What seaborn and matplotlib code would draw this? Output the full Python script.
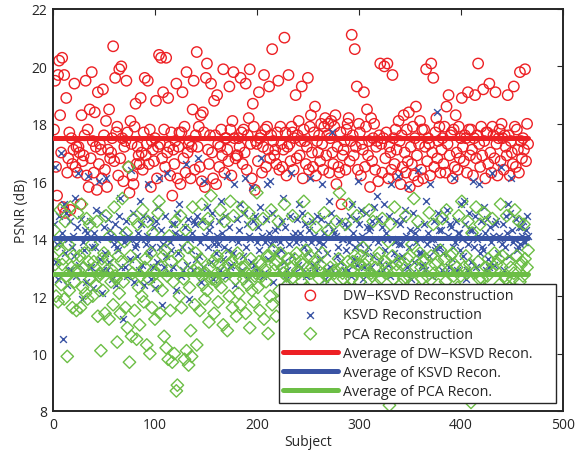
import numpy as np
import pandas as pd
import matplotlib
matplotlib.use("Agg")
import matplotlib.pyplot as plt
import seaborn as sns

# PSNR (dB) per subject for the three reconstruction methods
dw_ksvd = [
    17.8, 19.5, 16.5, 15.5, 19.7, 20.2, 18.3, 17.0, 20.3, 15.1, 19.7, 14.9, 18.9, 16.3, 16.8, 17.7, 15.0, 17.5, 16.6, 17.1,
    19.4, 16.5, 17.2, 16.3, 17.2, 17.0, 15.2, 18.3, 16.7, 16.9, 17.6, 19.5, 16.2, 17.8, 15.8, 18.5, 16.8, 19.8, 17.4, 16.3,
    18.4, 17.2, 15.7, 19.1, 16.6, 17.3, 17.1, 16.1, 19.2, 17.6, 16.4, 18.1, 15.8, 17.1, 18.5, 16.8, 17.0, 17.5, 20.7, 16.7,
    19.6, 17.7, 17.9, 16.2, 19.9, 16.8, 20.0, 17.5, 16.0, 17.2, 17.4, 19.5, 17.7, 16.5, 15.6, 18.1, 17.3, 16.2, 15.9, 17.9,
    18.7, 16.6, 17.2, 16.9, 16.6, 18.9, 17.0, 16.4, 17.7, 19.6, 16.9, 17.3, 19.5, 16.6, 17.8, 15.8, 17.4, 17.1, 16.7, 17.5,
    18.8, 16.1, 17.2, 20.4, 17.3, 20.3, 16.8, 19.1, 17.8, 16.5, 20.3, 17.0, 18.9, 17.2, 16.2, 17.7, 15.5, 17.1, 16.6, 17.4,
    19.4, 16.1, 17.2, 17.7, 15.9, 17.7, 19.1, 16.8, 17.9, 16.3, 19.8, 17.0, 17.3, 17.4, 16.1, 17.2, 18.5, 19.5, 16.4, 17.6,
    20.5, 17.2, 17.9, 16.5, 18.3, 16.0, 18.4, 17.7, 15.8, 19.6, 20.1, 17.1, 16.6, 17.6, 19.4, 17.0, 16.1, 18.8, 17.6, 15.9,
    19.0, 17.3, 16.5, 17.2, 17.8, 16.9, 19.9, 16.3, 17.5, 17.5, 17.1, 16.7, 19.3, 17.8, 16.2, 18.1, 19.8, 17.5, 16.8, 16.9,
    16.9, 17.5, 17.2, 19.6, 17.7, 16.6, 17.8, 17.0, 19.4, 16.4, 17.6, 18.2, 19.9, 17.3, 16.1, 18.7, 17.9, 15.7, 17.4, 17.3,
    16.7, 19.1, 17.5, 17.6, 16.3, 17.2, 19.7, 17.8, 16.5, 17.9, 17.1, 19.3, 16.8, 17.6, 20.6, 17.4, 16.9, 17.1, 16.6, 17.7,
    19.5, 16.4, 17.9, 17.3, 16.5, 17.1, 21.0, 17.7, 16.2, 17.2, 19.7, 17.3, 16.7, 17.9, 17.7, 16.4, 17.5, 19.0, 16.8, 17.6,
    18.1, 16.9, 17.4, 19.3, 16.1, 17.8, 17.4, 16.6, 17.2, 19.6, 16.4, 17.9, 18.3, 17.0, 16.5, 17.7, 18.6, 16.2, 17.4, 17.0,
    17.6, 16.7, 18.0, 17.3, 16.4, 17.9, 18.2, 16.9, 17.6, 18.0, 16.3, 17.5, 18.1, 17.0, 16.6, 17.9, 18.3, 15.9, 17.2, 16.5,
    16.3, 17.7, 15.2, 16.9, 17.1, 17.4, 16.4, 17.8, 18.0, 18.2, 16.7, 17.4, 21.1, 17.6, 16.9, 20.6, 17.2, 19.3, 16.4, 18.0,
    17.7, 16.2, 17.3, 17.1, 19.1, 16.5, 17.9, 18.5, 16.9, 17.4, 15.8, 18.2, 16.7, 17.5, 18.0, 16.4, 17.2, 17.4, 16.0, 17.6,
    20.1, 17.3, 16.3, 17.5, 20.0, 16.8, 17.7, 20.1, 16.1, 17.2, 17.0, 16.4, 19.7, 17.5, 16.6, 17.8, 17.1, 16.2, 18.1, 17.4,
    15.9, 17.6, 16.5, 18.3, 17.0, 16.3, 17.8, 16.7, 18.4, 15.8, 17.2, 16.6, 17.9, 16.2, 17.5, 18.6, 16.9, 16.0, 17.3, 18.1,
    16.4, 17.8, 16.1, 17.8, 17.2, 19.9, 16.7, 17.5, 17.3, 16.2, 20.1, 17.0, 19.6, 16.5, 17.7, 18.2, 16.8, 17.4, 17.9, 16.3,
    17.1, 17.5, 16.6, 17.9, 16.3, 18.6, 17.3, 19.0, 16.9, 17.6, 17.7, 16.1, 17.8, 16.5, 18.3, 17.0, 16.4, 17.9, 16.8, 17.5,
    18.9, 17.2, 16.7, 17.6, 17.5, 16.3, 19.1, 17.8, 16.9, 17.8, 17.1, 16.2, 17.5, 19.0, 16.8, 17.6, 20.1, 17.3, 16.5, 17.9,
    16.9, 19.2, 17.4, 16.1, 17.7, 17.7, 16.6, 19.4, 17.0, 16.3, 17.9, 17.6, 16.8, 19.1, 17.3, 16.2, 17.5, 17.8, 16.7, 18.0,
    17.5, 16.4, 17.6, 17.2, 16.9, 19.0, 17.6, 16.2, 17.4, 17.0, 16.6, 19.3, 17.9, 16.5, 17.8, 17.1, 16.3, 19.8, 17.4, 16.8,
    17.5, 17.1, 19.9, 16.7, 18.0, 17.3,
]

ksvd = [
    14.5, 16.5, 13.2, 13.8, 12.6, 14.8, 13.9, 17.0, 14.2, 10.5, 15.2, 13.5, 14.9, 12.4, 14.0, 12.9, 14.6, 12.9, 13.7, 14.1,
    13.4, 15.4, 12.7, 14.4, 16.3, 13.1, 14.7, 11.9, 13.9, 13.6, 14.3, 12.5, 14.2, 16.2, 13.0, 14.6, 13.0, 13.7, 12.3, 14.2,
    13.7, 15.0, 14.0, 12.8, 16.0, 13.3, 14.9, 12.1, 12.9, 14.4, 13.5, 16.1, 12.9, 14.7, 13.2, 14.3, 14.1, 12.6, 14.0, 13.8,
    14.5, 12.4, 13.7, 13.6, 14.8, 15.4, 13.0, 14.3, 11.2, 13.9, 13.0, 14.6, 12.7, 14.1, 14.0, 13.3, 16.4, 14.9, 12.5, 13.7,
    13.8, 13.4, 14.2, 12.9, 15.3, 14.5, 13.1, 14.8, 12.4, 14.0, 13.8, 14.1, 15.9, 13.5, 14.7, 12.6, 13.7, 13.0, 14.4, 12.3,
    14.6, 13.2, 15.1, 16.1, 13.7, 14.3, 11.7, 13.8, 13.0, 14.8, 13.4, 16.3, 14.0, 12.8, 13.9, 13.6, 14.5, 13.0, 14.5, 14.2,
    12.2, 14.9, 13.5, 15.2, 14.1, 12.7, 13.7, 12.9, 14.4, 16.6, 13.1, 14.7, 11.9, 14.0, 13.6, 14.2, 12.9, 14.6, 14.5, 13.3,
    14.8, 16.8, 13.4, 13.9, 12.5, 14.6, 13.0, 16.0, 14.1, 12.8, 15.1, 13.7, 14.3, 14.5, 13.2, 14.9, 12.6, 13.8, 14.0, 13.5,
    14.1, 13.8, 14.6, 12.9, 15.3, 14.2, 13.3, 13.7, 14.8, 12.7, 16.2, 13.6, 14.4, 13.0, 13.1, 14.0, 13.5, 15.9, 12.4, 14.7,
    13.9, 14.3, 15.2, 12.8, 12.9, 13.4, 14.9, 16.1, 13.7, 14.5, 12.6, 14.1, 14.0, 13.2, 15.8, 14.6, 13.1, 14.8, 12.9, 13.9,
    14.4, 13.6, 15.1, 16.8, 14.1, 12.7, 12.8, 13.9, 14.7, 15.9, 13.3, 14.2, 16.0, 13.8, 14.9, 12.5, 14.0, 14.3, 13.5, 14.4,
    14.0, 12.9, 13.9, 13.6, 14.6, 15.4, 13.2, 14.4, 12.6, 12.9, 13.8, 14.8, 16.3, 13.4, 14.1, 12.8, 14.2, 13.9, 14.7, 13.1,
    15.2, 14.2, 13.0, 14.9, 14.0, 13.7, 14.5, 12.7, 12.8, 13.5, 14.3, 16.1, 13.9, 14.6, 13.1, 14.1, 14.0, 12.9, 14.8, 13.6,
    13.9, 13.3, 14.7, 15.9, 13.8, 14.2, 12.6, 12.9, 13.5, 14.5, 15.3, 13.0, 14.9, 17.7, 14.3, 14.2, 12.8, 14.1, 13.4, 13.7,
    14.6, 13.2, 14.0, 14.0, 12.9, 14.5, 13.6, 14.4, 12.9, 13.9, 14.8, 12.7, 15.2, 14.2, 13.3, 13.7, 14.7, 13.1, 16.0, 14.5,
    13.8, 15.0, 14.1, 12.6, 13.0, 13.5, 14.9, 14.4, 13.7, 14.3, 14.4, 13.0, 14.6, 13.4, 15.1, 14.0, 12.8, 15.5, 13.9, 14.7,
    13.2, 12.8, 14.4, 12.9, 15.2, 13.6, 14.2, 14.0, 13.1, 14.8, 12.7, 15.9, 14.0, 13.5, 13.9, 14.6, 13.3, 16.2, 13.8, 14.5,
    13.8, 13.4, 14.7, 12.8, 15.0, 14.1, 13.0, 15.8, 13.7, 14.3, 12.6, 12.8, 14.9, 13.2, 14.2, 13.9, 14.4, 16.4, 13.5, 14.0,
    13.5, 13.1, 13.0, 14.5, 12.9, 15.3, 13.8, 14.2, 13.4, 15.9, 14.0, 12.7, 14.0, 14.6, 13.6, 13.7, 18.4, 14.9, 14.3, 13.7,
    14.3, 12.9, 13.5, 14.7, 12.8, 15.0, 14.1, 13.0, 14.5, 14.4, 13.3, 13.7, 16.1, 13.9, 14.6, 12.9, 14.2, 14.2, 13.6, 15.2,
    14.0, 13.4, 15.3, 14.5, 12.6, 12.9, 13.8, 14.9, 14.3, 13.2, 14.3, 16.0, 13.7, 14.8, 13.0, 14.0, 14.1, 15.9, 13.5, 14.6,
    13.7, 13.6, 15.1, 14.2, 12.9, 14.7, 13.3, 13.0, 14.4, 13.9, 16.3, 14.1, 13.1, 14.5, 14.6, 13.5, 14.1, 14.0, 16.5, 13.8,
    14.5, 12.9, 13.7, 14.8, 14.2, 15.2, 13.4, 14.9, 16.1, 14.3, 13.9, 14.0, 14.0, 14.7, 13.6, 13.7, 14.4, 13.8, 14.4, 14.1,
    14.6, 13.9, 13.9, 14.3, 14.8, 14.1,
]

pca = [
    14.3, 13.1, 12.0, 13.8, 11.8, 13.6, 15.0, 12.4, 13.1, 13.3, 11.9, 14.6, 12.7, 9.9, 13.8, 12.2, 15.1, 13.0, 11.6, 13.4,
    12.5, 12.9, 11.5, 14.9, 12.9, 13.4, 11.6, 15.2, 12.3, 13.0, 13.5, 12.1, 14.7, 11.9, 13.2, 14.5, 12.6, 13.8, 12.0, 13.2,
    13.0, 12.4, 14.6, 11.3, 12.7, 12.8, 10.1, 13.3, 12.2, 13.5, 11.4, 14.8, 12.9, 13.3, 11.2, 14.1, 12.5, 12.9, 11.7, 15.1,
    12.7, 12.6, 10.4, 13.4, 12.1, 11.4, 13.2, 15.4, 12.5, 13.9, 11.6, 14.2, 10.9, 16.5, 9.7, 13.4, 10.6, 12.8, 14.7, 11.5,
    13.1, 10.5, 14.5, 12.3, 11.0, 12.7, 12.0, 15.0, 11.8, 13.0, 13.3, 10.3, 14.6, 12.6, 10.0, 13.5, 11.6, 14.2, 12.9, 11.2,
    12.8, 12.4, 14.9, 15.3, 11.4, 13.0, 12.2, 13.4, 10.6, 13.6, 10.2, 12.7, 9.8, 14.1, 11.5, 13.2, 9.7, 12.5, 10.0, 14.6,
    8.7, 8.9, 13.4, 12.0, 14.8, 11.6, 13.1, 12.6, 9.8, 14.3, 10.1, 13.7, 9.6, 12.3, 10.8, 9.9, 15.1, 12.9, 11.7, 13.5,
    10.3, 13.0, 12.8, 11.5, 13.3, 15.2, 12.4, 14.5, 11.9, 12.8, 12.2, 14.7, 11.1, 13.0, 15.5, 12.6, 13.2, 11.4, 12.6, 12.5,
    13.4, 11.8, 13.1, 15.0, 12.3, 12.9, 11.0, 14.6, 12.7, 13.4, 10.8, 13.1, 12.0, 15.3, 13.2, 11.6, 14.8, 12.9, 12.6, 11.3,
    13.5, 12.1, 13.3, 11.7, 13.0, 15.1, 12.6, 13.0, 11.4, 12.8, 12.4, 14.9, 10.9, 13.3, 12.2, 14.5, 11.8, 12.7, 12.8, 15.6,
    12.3, 13.2, 11.5, 13.1, 12.7, 14.7, 11.2, 12.9, 12.5, 13.4, 10.7, 13.4, 12.0, 15.0, 11.7, 13.6, 12.9, 13.1, 11.3, 13.2,
    14.6, 12.2, 13.5, 11.9, 13.0, 12.8, 15.2, 11.6, 12.7, 12.4, 13.3, 11.0, 13.0, 12.6, 14.8, 11.4, 13.3, 12.1, 13.5, 12.9,
    12.8, 11.8, 13.2, 12.5, 13.1, 15.3, 11.5, 13.6, 12.3, 14.7, 11.2, 13.4, 12.8, 13.0, 10.9, 13.2, 12.0, 14.4, 11.7, 12.9,
    12.6, 13.1, 11.3, 13.5, 12.2, 14.9, 11.9, 12.7, 12.7, 14.3, 11.1, 13.0, 12.4, 11.5, 11.6, 12.8, 12.9, 14.6, 11.4, 13.3,
    15.6, 12.1, 13.0, 12.8, 12.6, 11.7, 14.5, 12.3, 13.2, 15.2, 11.5, 12.9, 12.6, 13.2, 11.0, 13.4, 12.0, 14.8, 11.8, 13.1,
    12.5, 13.4, 11.3, 13.7, 12.9, 13.1, 11.6, 13.3, 12.2, 15.0, 11.9, 12.8, 12.7, 14.6, 11.2, 13.0, 12.4, 13.3, 11.7, 13.5,
    12.6, 12.0, 14.7, 11.4, 13.2, 12.8, 13.0, 11.1, 13.9, 8.2, 14.5, 11.8, 13.4, 12.6, 15.1, 11.5, 13.1, 12.9, 13.2, 11.9,
    12.4, 13.1, 11.6, 12.6, 12.1, 14.8, 11.3, 13.3, 12.7, 13.4, 11.0, 13.8, 12.5, 15.4, 11.7, 13.0, 12.2, 14.6, 11.4, 13.5,
    13.0, 12.6, 13.2, 11.8, 13.3, 12.3, 12.7, 11.5, 14.9, 12.0, 13.4, 11.2, 14.5, 12.8, 13.1, 11.9, 13.2, 12.4, 11.5, 13.6,
    12.9, 14.7, 11.4, 13.3, 12.5, 15.0, 11.7, 12.9, 12.1, 13.4, 11.1, 13.5, 12.7, 13.1, 11.6, 13.0, 12.3, 14.8, 11.8, 12.7,
    15.3, 12.2, 13.0, 11.5, 13.4, 12.8, 14.6, 11.3, 13.1, 8.3, 14.2, 11.9, 12.8, 12.0, 15.1, 11.6, 13.2, 12.6, 14.5, 11.2,
    12.6, 12.3, 14.9, 11.7, 13.0, 12.7, 13.3, 11.4, 12.9, 12.1, 14.7, 11.8, 13.5, 12.9, 13.1, 11.0, 13.3, 12.4, 15.2, 11.6,
    13.4, 12.0, 12.7, 12.6, 14.8, 11.5, 13.2, 12.3, 13.0, 11.9, 12.6, 12.8, 15.0, 11.3, 13.4, 12.2, 14.6, 12.5, 13.1, 13.2,
    12.7, 14.5, 13.3, 12.1, 13.0, 13.6,
]

labels = ["DW\u2212KSVD Reconstruction", "KSVD Reconstruction", "PCA Reconstruction"]
avg_labels = ["Average of DW\u2212KSVD Recon.", "Average of KSVD Recon.", "Average of PCA Recon."]
colors = ["#ED2024", "#3A54A4", "#6CBE45"]

subjects = np.arange(1, len(dw_ksvd) + 1)
series = [dw_ksvd, ksvd, pca]

sns.set_theme(style="white")
plt.rcParams["font.family"] = ["Open Sans", "DejaVu Sans"]
plt.rcParams["axes.edgecolor"] = "#262626"

fig = plt.figure(figsize=(5.76, 4.52), dpi=100)
ax = fig.add_axes([0.092, 0.0885, 0.885, 0.8895])

markers = [dict(marker="o", s=56, facecolors="none", linewidths=1.0),
           dict(marker="x", s=24, linewidths=1.0),
           dict(marker="D", s=40, facecolors="none", linewidths=1.0)]

for vals, lab, col, mk in zip(series, labels, colors, markers):
    df = pd.DataFrame({"Subject": subjects, "PSNR": vals})
    kw = dict(mk)
    if kw.get("facecolors") == "none":
        kw["edgecolor"] = col
    else:
        kw["color"] = col
    sns.scatterplot(data=df, x="Subject", y="PSNR", ax=ax, label=lab, zorder=2, **kw)

for vals, lab, col in zip(series, avg_labels, colors):
    m = float(np.mean(vals))
    dfl = pd.DataFrame({"Subject": [subjects[0], subjects[-1]], "PSNR": [m, m]})
    sns.lineplot(data=dfl, x="Subject", y="PSNR", ax=ax, color=col, linewidth=3.6,
                 label=lab, zorder=3)

ax.set_xlim(0, 500)
ax.set_ylim(8, 22)
ax.set_xticks(range(0, 501, 100))
ax.set_yticks(range(8, 23, 2))
ax.tick_params(direction="in", length=4, width=0.8, top=True, right=True,
               labelsize=10, colors="#262626", pad=4)
for sp in ax.spines.values():
    sp.set_visible(True)
    sp.set_linewidth(1.4)
ax.set_xlabel("Subject", fontsize=10, color="#262626", labelpad=2)
ax.set_ylabel("PSNR (dB)", fontsize=10, color="#262626", labelpad=2)

leg = ax.legend(loc="lower left", bbox_to_anchor=(0.443, 0.02, 0.543, 0.3), mode="expand",
                fontsize=10.3, frameon=True, fancybox=False, framealpha=1,
                edgecolor="#262626", handlelength=3.85, scatterpoints=1,
                borderpad=0.28, labelspacing=0.29, handletextpad=0.35, borderaxespad=0)
leg.get_frame().set_linewidth(1.0)
leg.set_zorder(5)

fig.savefig("out.png", dpi=100)
